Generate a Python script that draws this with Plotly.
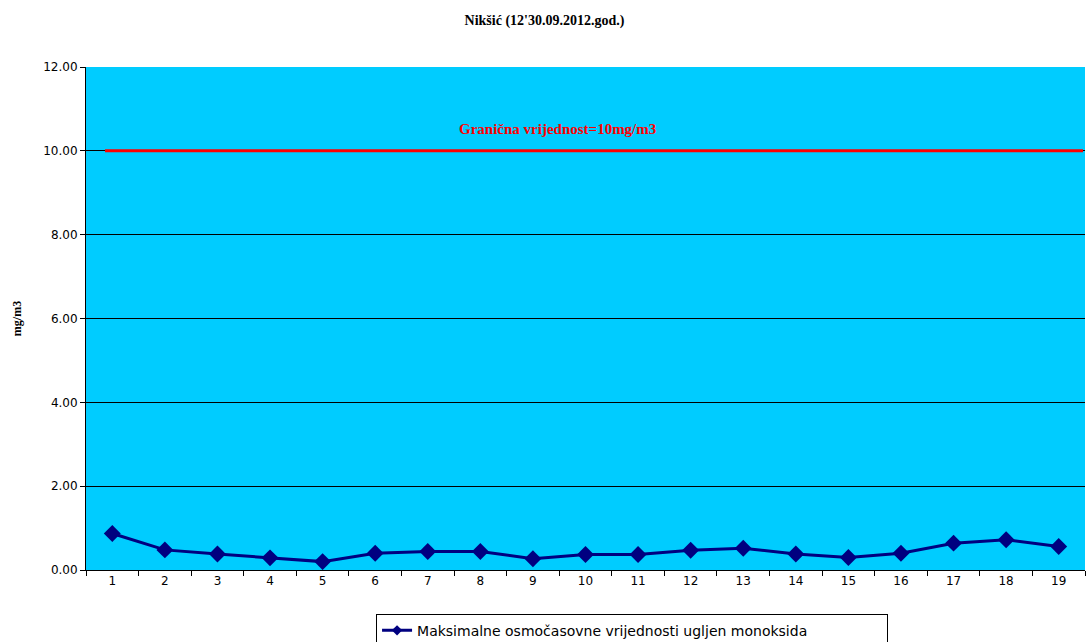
import plotly.graph_objects as go

days = [str(i) for i in range(1, 20)]
co_max8h = [0.87, 0.48, 0.38, 0.29, 0.20, 0.40, 0.44, 0.44, 0.27, 0.37,
            0.37, 0.47, 0.52, 0.38, 0.30, 0.40, 0.64, 0.72, 0.56]
limit_value = 10.0
y_ticks = [0, 2, 4, 6, 8, 10, 12]
y_tick_labels = ["0.00", "2.00", "4.00", "6.00", "8.00", "10.00", "12.00"]
series_name = "Maksimalne osmočasovne vrijednosti ugljen monoksida"

fig = go.Figure()
fig.add_shape(type="line", xref="paper", x0=0.019, x1=0.998, yref="y",
              y0=limit_value, y1=limit_value, layer="above",
              line=dict(color="#FF0000", width=3))
fig.add_trace(go.Scatter(
    x=days, y=co_max8h, mode="lines+markers", name=series_name, showlegend=False,
    line=dict(color="#000080", width=3),
    marker=dict(symbol="diamond", size=13, color="#000080")))
fig.add_trace(go.Scatter(
    x=[None], y=[None], mode="lines+markers", name=series_name,
    line=dict(color="#000080", width=3),
    marker=dict(symbol="diamond", size=8, color="#000080")))

fig.add_annotation(
    x=0.4715, xref="paper", y=limit_value, yref="y", yshift=22, showarrow=False,
    text="<b>Granična vrijednost=10mg/m3</b>",
    font=dict(family="Liberation Serif, Times New Roman, serif", size=15, color="#FF0000"))

fig.update_layout(
    width=1089, height=642,
    margin=dict(l=86, r=4, t=67, b=72),
    paper_bgcolor="white", plot_bgcolor="#00CCFF",
    title=dict(text="<b>Nikšić (12'30.09.2012.god.)</b>", x=0.5, xanchor="center",
               y=0.968, yanchor="middle",
               font=dict(family="Liberation Serif, Times New Roman, serif", size=14, color="black")),
    font=dict(family="DejaVu Sans, Arial, sans-serif", size=12, color="black"),
    legend=dict(orientation="h", x=0.5466, xanchor="center",
                yref="container", y=0.044, yanchor="top",
                bordercolor="black", borderwidth=1, bgcolor="white",
                font=dict(family="DejaVu Sans, Arial, sans-serif", size=14),
                entrywidth=465, tracegroupgap=0),
    showlegend=True,
)
fig.update_xaxes(
    type="category", range=[-0.5, 18.5], showgrid=False, automargin=False,
    showline=True, linecolor="black", linewidth=1,
    ticks="outside", tickson="boundaries", ticklen=5, tickcolor="black",
    tickfont=dict(size=12), zeroline=False)
fig.update_yaxes(
    range=[0, 12], tickvals=y_ticks, ticktext=y_tick_labels, automargin=False,
    showgrid=True, gridcolor="black", gridwidth=1,
    showline=True, linecolor="black", linewidth=1,
    ticks="outside", ticklen=5, tickcolor="black", zeroline=False,
    tickfont=dict(size=12),
    title=dict(text="<b>mg/m3</b>", standoff=19,
               font=dict(family="Liberation Serif, Times New Roman, serif", size=12)))

fig.write_html("out.html", config={"displayModeBar": False},
               post_script="document.body.style.margin='0';document.body.style.overflow='hidden';")
